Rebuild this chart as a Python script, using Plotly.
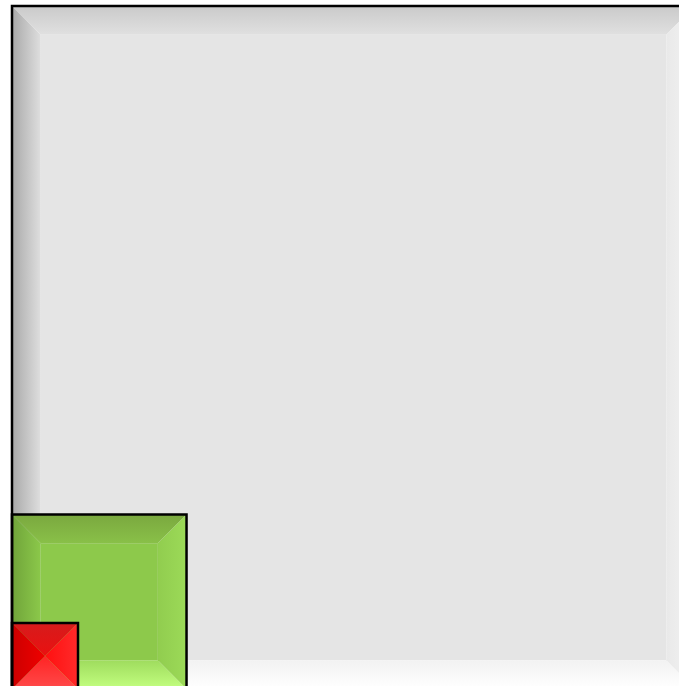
import math
import plotly.graph_objects as go

# Data: nested proportional squares (area ~ value), anchored bottom-left
labels = ["Total", "Group A", "Group B"]
values = [100.0, 6.53, 0.934]
center_colors = ["#e5e5e5", "#8dc94b", "#ff0000"]
# bevel colours (outer, inner) for top, left, right, bottom
bevel_colors = [
    {"top": ("#cacaca", "#e0e0e0"), "left": ("#a9a9a9", "#dedede"),
     "right": ("#f3f3f3", "#e9e9e9"), "bottom": ("#ffffff", "#f2f2f2")},
    {"top": ("#7aa83f", "#89c048"), "left": ("#70a43a", "#8bc84a"),
     "right": ("#9cda58", "#91cd4f"), "bottom": ("#c3ff80", "#9fdc5e")},
    {"top": ("#d61c1c", "#ea1010"), "left": ("#cc0000", "#f00000"),
     "right": ("#ff2a2a", "#ff1010"), "bottom": ("#ff4a4a", "#ff2424")},
]

W, H = 679, 686
PX = 68.3  # pixels per side unit
x0_px, base_px = 12.0, 689.0
xrange = [-x0_px / PX, (W - x0_px) / PX]
yrange = [-(H - base_px) / PX, base_px / PX]

fig = go.Figure()

def add_poly(xs, ys, gtype, c_low, c_high):
    fig.add_trace(go.Scatter(
        x=xs + [xs[0]], y=ys + [ys[0]], mode="lines", fill="toself",
        line=dict(width=0), hoverinfo="skip", showlegend=False,
        fillgradient=dict(type=gtype, colorscale=[[0, c_low], [1, c_high]]),
    ))

for lab, v, cc, bc in zip(labels, values, center_colors, bevel_colors):
    s = math.sqrt(v)
    b = s / 2 if s < 1.2 else min(0.42, s / 2)
    # center
    if s - 2 * b > 1e-6:
        fig.add_trace(go.Scatter(
            x=[b, s - b, s - b, b, b], y=[b, b, s - b, s - b, b], mode="lines",
            fill="toself", fillcolor=cc, line=dict(width=0), hoverinfo="skip",
            showlegend=False, name=lab))
    # top bevel (low y = inner)
    add_poly([0, s, s - b, b], [s, s, s - b, s - b], "vertical",
             bc["top"][1], bc["top"][0])
    # bottom bevel (low y = outer)
    add_poly([0, s, s - b, b], [0, 0, b, b], "vertical",
             bc["bottom"][0], bc["bottom"][1])
    # left bevel (low x = outer)
    add_poly([0, b, b, 0], [0, b, s - b, s], "horizontal",
             bc["left"][0], bc["left"][1])
    # right bevel (low x = inner)
    add_poly([s, s - b, s - b, s], [0, b, s - b, s], "horizontal",
             bc["right"][1], bc["right"][0])
    fig.add_shape(type="rect", x0=0, y0=0, x1=s, y1=s, xref="x", yref="y",
                  line=dict(color="black", width=2.5), fillcolor="rgba(0,0,0,0)",
                  layer="above")

fig.update_layout(
    width=W, height=H, margin=dict(l=0, r=0, t=0, b=0),
    paper_bgcolor="white", plot_bgcolor="white", showlegend=False,
    xaxis=dict(range=xrange, visible=False, fixedrange=True),
    yaxis=dict(range=yrange, visible=False, fixedrange=True),
)
fig.write_html(
    "out.html",
    config={"displayModeBar": False},
    post_script="document.body.style.margin='0';document.body.style.overflow='hidden';",
)
